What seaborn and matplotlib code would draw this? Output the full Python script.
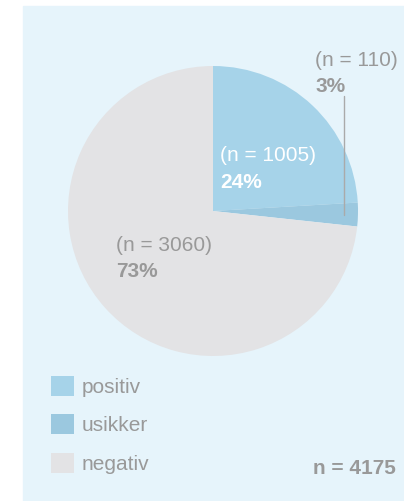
import matplotlib
matplotlib.use("Agg")
import matplotlib.pyplot as plt
from matplotlib.patches import Rectangle
import seaborn as sns

# data
labels = ["positiv", "usikker", "negativ"]
counts = [1005, 110, 3060]
pct_text = ["24%", "3%", "73%"]
total = 4175
colors = ["#a6d3e9", "#9bc8df", "#e3e3e5"]

sns.set_style("white")
plt.rcParams["font.family"] = ["Liberation Sans", "DejaVu Sans"]

W, H = 404, 501
fig = plt.figure(figsize=(W / 100, H / 100), dpi=100)
fig.patches.append(Rectangle((23 / W, 0.0), 1 - 23 / W, 1 - 6 / H,
                             transform=fig.transFigure, color="#e6f4fb", zorder=-5))

# pie axes: center (213, 211) px, radius 145 px
ax = fig.add_axes([68 / W, (H - 356) / H, 290 / W, 290 / H])
ax.set_facecolor("none")
ax.set_zorder(1)
wedges, _ = ax.pie(counts, colors=colors, startangle=90, counterclock=False,
                   radius=1, wedgeprops=dict(linewidth=0))
ax.set_xlim(-1, 1)
ax.set_ylim(-1, 1)
ax.set_aspect("equal")
ax.axis("off")

gray = "#999999"
fs = 15

def px(x, y):
    return x / W, 1 - y / H

# labels
fig.text(*px(315, 66), f"(n = {counts[1]})", color=gray, fontsize=fs, zorder=5)
fig.text(*px(315, 92), pct_text[1], color=gray, fontsize=fs, fontweight="bold", zorder=5)
fig.add_artist(plt.Line2D([344 / W, 344 / W], [1 - 96 / H, 1 - 215 / H],
                          color="#aaaaaa", linewidth=1, transform=fig.transFigure,
                          zorder=5))

fig.text(*px(220, 161), f"(n = {counts[0]})", color="white", fontsize=fs, zorder=5)
fig.text(*px(220, 188), pct_text[0], color="white", fontsize=fs, fontweight="bold", zorder=5)

fig.text(*px(116, 251), f"(n = {counts[2]})", color=gray, fontsize=fs, zorder=5)
fig.text(*px(116, 277), pct_text[2], color=gray, fontsize=fs, fontweight="bold", zorder=5)

leg = fig.legend(wedges, labels, loc="upper left", bbox_to_anchor=px(32, 357),
                 frameon=False, fontsize=fs, handlelength=1.1, handleheight=1.1,
                 handletextpad=0.4, labelspacing=0.84, labelcolor=gray)

fig.text(*px(396, 474), f"n = {total}", color=gray, fontsize=fs,
         fontweight="bold", ha="right", zorder=5)

fig.savefig("out.png", dpi=100)
